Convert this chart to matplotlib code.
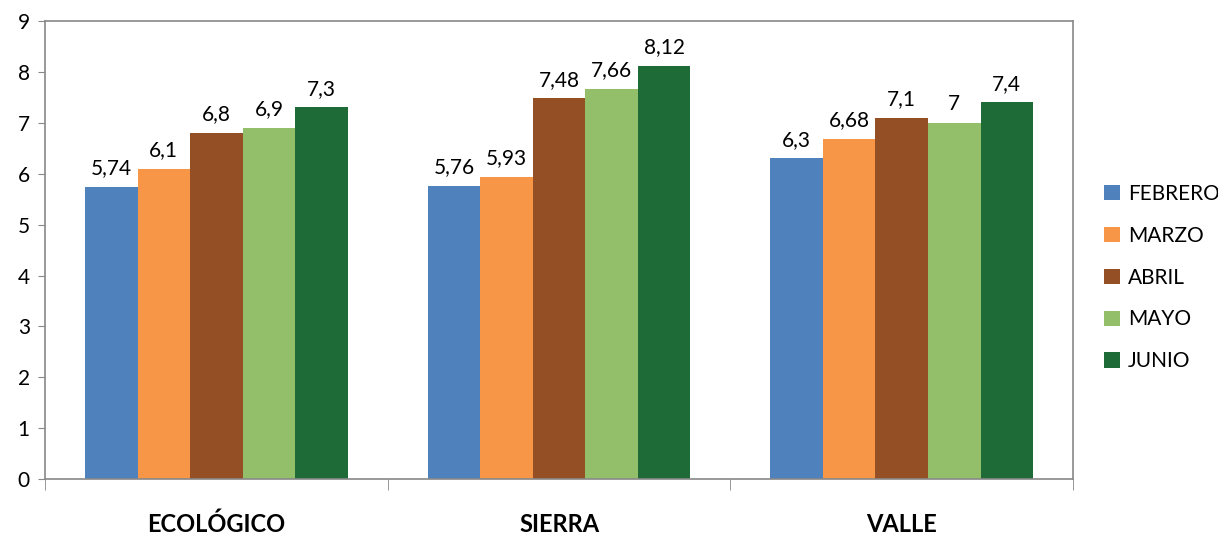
import numpy as np
import matplotlib.pyplot as plt

categories = ["ECOLÓGICO", "SIERRA", "VALLE"]
months = ["FEBRERO", "MARZO", "ABRIL", "MAYO", "JUNIO"]
febrero = [5.74, 5.76, 6.3]
marzo = [6.1, 5.93, 6.68]
abril = [6.8, 7.48, 7.1]
mayo = [6.9, 7.66, 7.0]
junio = [7.3, 8.12, 7.4]
series = [febrero, marzo, abril, mayo, junio]
colors = ["#4F81BD", "#F79646", "#954F24", "#93BF6A", "#1E6B37"]


def fmt(v):
    s = ("%.2f" % v).rstrip("0").rstrip(".")
    return s.replace(".", ",")


plt.rcParams["font.family"] = ["Lato", "DejaVu Sans"]
fig = plt.figure(figsize=(12.18, 5.36), dpi=100)
ax = fig.add_axes([0.037, 0.106, 0.844, 0.855])

x = np.arange(len(categories))
w = 1 / 6.52
for i, (vals, name) in enumerate(zip(series, months)):
    pos = x + (i - 2) * w
    bars = ax.bar(pos, vals, w, color=colors[i], label=name)
    for b, v in zip(bars, vals):
        ax.text(b.get_x() + b.get_width() / 2, v + 0.17, fmt(v),
                ha="center", va="bottom", fontsize=15)

ax.set_xlim(-0.5, 2.5)
ax.set_ylim(0, 9)
ax.set_yticks(range(10))
ax.tick_params(axis="y", labelsize=15, length=5, color="#888888", pad=6)
ax.set_xticks(x)
ax.set_xticklabels(categories, fontsize=17, fontweight="bold")
ax.tick_params(axis="x", length=0, pad=24)
ax.set_xticks([-0.5, 0.5, 1.5, 2.5], minor=True)
ax.tick_params(axis="x", which="minor", length=8, color="#888888")
for s in ax.spines.values():
    s.set_color("#888888")
    s.set_linewidth(1.2)

ax.legend(loc="center left", bbox_to_anchor=(1.012, 0.44), frameon=False,
          fontsize=15, handlelength=0.75, handleheight=0.75,
          labelspacing=1.05, handletextpad=0.4)

fig.savefig("out.png", dpi=100)
